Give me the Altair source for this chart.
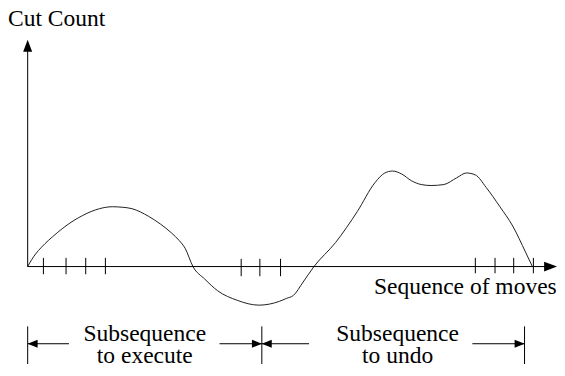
import altair as alt
import pandas as pd

# ---- data (x = position in the sequence of moves, y = cut count; origin at the axes crossing)
curve_x = [0, 4, 8, 14, 21, 30, 40, 56, 73, 86, 96, 106, 123, 135, 146, 154, 160, 168,
           180, 193, 213, 235, 256, 263, 270, 280, 291, 313, 335, 353, 363, 371, 380,
           390, 400, 410, 423, 436, 446, 455, 466, 480, 493, 506, 513]
curve_y = [0, 7, 13, 20, 27, 35, 43, 53, 60, 62, 61.5, 60, 52, 44, 35, 27, 19, 0,
           -13, -25, -35, -40, -36, -33, -30, -16, 0, 25, 57, 87, 97, 99, 96,
           89, 85, 84, 85, 92, 97, 95, 82, 62, 42, 15, 0]

tick_x = [16, 39, 59, 79, 217, 236, 257, 455, 475, 494, 514]
tick_top = [9, 9, 9, 9, 8, 8, 8, 9, 9, 9, 9]
tick_bottom = [-8, -8, -8, -8, -10, -10, -10, -7, -7, -7, -7]

axis_end_x = [527]
axis_end_y = [225]

arrow_x = [5, 233, 243, 500]
arrow_dir = ["left", "right", "left", "right"]
span_y = -80
span_seg_x = [0, 195, 238, 452]
span_seg_x2 = [42, 238, 286, 505]
bar_x = [0, 238, 505]
bar_top = -62
bar_bottom = -101

ann_x = [119, 376]
ann_text = ["Subsequence\nto execute", "Subsequence\nto undo"]

y_title = "Cut Count"
x_title = "Sequence of moves"

# ---- scales
xs = alt.Scale(domain=[-20, 538], nice=False, zero=False)
ys = alt.Scale(domain=[-101, 268], nice=False, zero=False)
FONT = "'Liberation Serif', 'Times New Roman', serif"
FS = 23.5
INK = "#000000"


def X(f="x"):
    return alt.X(f"{f}:Q", scale=xs, axis=None)


def Y(f="y"):
    return alt.Y(f"{f}:Q", scale=ys, axis=None)


curve_df = pd.DataFrame({"x": curve_x, "y": curve_y})
curve = alt.Chart(curve_df).mark_line(interpolate="monotone", color="#222", strokeWidth=1).encode(
    x=X(), y=Y())

# axis lines
xaxis_df = pd.DataFrame({"x": [0], "x2": axis_end_x, "y": [0]})
xaxis = alt.Chart(xaxis_df).mark_rule(color=INK, strokeWidth=1).encode(
    x=X(), x2="x2:Q", y=Y())
yaxis_df = pd.DataFrame({"x": [0], "y": [0], "y2": axis_end_y})
yaxis = alt.Chart(yaxis_df).mark_rule(color=INK, strokeWidth=1).encode(
    x=X(), y=Y(), y2="y2:Q")

ticks_df = pd.DataFrame({"x": tick_x, "y": tick_top, "y2": tick_bottom})
ticks = alt.Chart(ticks_df).mark_rule(color=INK, strokeWidth=1).encode(
    x=X(), y=Y(), y2="y2:Q")

# axis arrowheads
UP = "M0,-1L0.75,1L-0.75,1Z"
RIGHT_BIG = "M1,0L-1,-0.75L-1,0.75Z"
ah_df = pd.DataFrame({"x": [0, 531.5], "y": [229, 0], "shape": [UP, RIGHT_BIG], "size": [144, 169]})
axis_heads = alt.Chart(ah_df).mark_point(filled=True, color=INK, opacity=1, strokeWidth=0).encode(
    x=X(), y=Y(),
    shape=alt.Shape("shape:N", scale=None, legend=None),
    size=alt.Size("size:Q", scale=None, legend=None))

# span annotations
seg_df = pd.DataFrame({"x": span_seg_x, "x2": span_seg_x2})
seg_df["y"] = span_y
segs = alt.Chart(seg_df).mark_rule(color=INK, strokeWidth=1).encode(x=X(), x2="x2:Q", y=Y())
bar_df = pd.DataFrame({"x": bar_x})
bar_df["y"] = bar_top
bar_df["y2"] = bar_bottom
bars = alt.Chart(bar_df).mark_rule(color=INK, strokeWidth=1).encode(x=X(), y=Y(), y2="y2:Q")

LEFT = "M-1,0L1,-0.8L1,0.8Z"
RIGHT = "M1,0L-1,-0.8L-1,0.8Z"
sh_df = pd.DataFrame({"x": arrow_x, "shape": [LEFT if d == "left" else RIGHT for d in arrow_dir]})
sh_df["y"] = span_y
span_heads = alt.Chart(sh_df).mark_point(filled=True, color=INK, opacity=1, strokeWidth=0, size=100).encode(
    x=X(), y=Y(), shape=alt.Shape("shape:N", scale=None, legend=None))

# texts
ann_df = pd.DataFrame({"x": ann_x, "t": ann_text})
ann_df["y"] = -77
ann = alt.Chart(ann_df).mark_text(font=FONT, fontSize=FS, color=INK, align="center",
                                  baseline="alphabetic", lineBreak="\n", lineHeight=22).encode(
    x=X(), y=Y(), text="t:N")

ttl_df = pd.DataFrame({"x": [-20, 352], "y": [249, -28], "t": [y_title, x_title]})
titles = alt.Chart(ttl_df).mark_text(font=FONT, fontSize=FS, color=INK, align="left",
                                     baseline="alphabetic").encode(x=X(), y=Y(), text="t:N")

chart = alt.layer(curve, xaxis, yaxis, ticks, axis_heads, segs, bars, span_heads, ann, titles).properties(
    width=549, height=356, padding=0, autosize=alt.AutoSizeParams(type="none")
).configure_view(stroke=None)

chart.save("out.html", embed_options={"renderer": "svg", "actions": False})
